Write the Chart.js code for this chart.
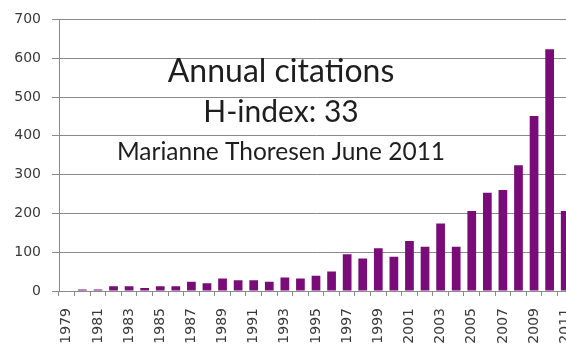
<!DOCTYPE html>
<html>
<head>
<meta charset="utf-8">
<script src="https://cdn.jsdelivr.net/npm/chart.js@4/dist/chart.umd.min.js"></script>
<style>
  html, body { margin: 0; padding: 0; background: #ffffff; overflow: hidden; }
  #wrap { width: 566px; height: 354px; overflow: hidden; position: relative; }
  canvas { display: block; }
</style>
</head>
<body>
<div id="wrap"><canvas id="c" width="580" height="354"></canvas></div>
<script>
const years = ["1979","1980","1981","1982","1983","1984","1985","1986","1987","1988",
  "1989","1990","1991","1992","1993","1994","1995","1996","1997","1998",
  "1999","2000","2001","2002","2003","2004","2005","2006","2007","2008",
  "2009","2010","2011"];
const citations = [0,4,4,12,12,8,12,12,24,20,
  32,28,28,24,35,32,39,50,95,84,
  110,88,129,114,174,114,206,253,260,324,
  451,623,206];
const yTicks = [0,100,200,300,400,500,600,700];
const titleLines = ["Annual citations", "H-index: 33", "Marianne Thoresen June 2011"];

const textPlugin = {
  id: 'overlayText',
  afterDraw(chart) {
    const ctx = chart.ctx;
    ctx.save();
    ctx.fillStyle = '#1e1e1e';
    ctx.textAlign = 'center';
    ctx.textBaseline = 'alphabetic';
    const specs = [
      { font: '32px Lato', y: 82 },
      { font: '30px Lato', y: 122 },
      { font: '24.5px Lato', y: 160 }
    ];
    titleLines.forEach((t, i) => {
      ctx.font = specs[i].font;
      ctx.fillText(t, 281, specs[i].y);
    });
    ctx.restore();
  }
};

new Chart(document.getElementById('c'), {
  type: 'bar',
  data: {
    labels: years,
    datasets: [{
      data: citations,
      backgroundColor: '#7a0c7a',
      borderWidth: 0,
      barPercentage: 0.56,
      categoryPercentage: 1.0
    }]
  },
  options: {
    responsive: false,
    animation: false,
    layout: { padding: { top: 19, right: 7, left: 0, bottom: 0 } },
    plugins: { legend: { display: false }, tooltip: { enabled: false }, title: { display: false } },
    scales: {
      x: {
        afterFit(scale) { scale.height = 63; scale.paddingRight = 0; scale.paddingLeft = 0; },
        grid: { display: true, drawOnChartArea: false, drawTicks: true, tickLength: 5, color: '#8a8a8a', offset: true },
        border: { display: true, color: '#8a8a8a', width: 1 },
        ticks: {
          autoSkip: false,
          minRotation: 90,
          maxRotation: 90,
          padding: 12,
          color: '#3a3a3a',
          font: { family: 'DejaVu Sans', size: 14 },
          callback(value, index) { return index % 2 === 0 ? years[index] : ''; }
        }
      },
      y: {
        min: 0,
        max: 700,
        afterFit(scale) { scale.width = 59; },
        afterBuildTicks(scale) { scale.ticks = yTicks.map(v => ({ value: v })); },
        grid: { color: '#8a8a8a', lineWidth: 1, drawTicks: true, tickLength: 7 },
        border: { display: true, color: '#8a8a8a', width: 1 },
        ticks: {
          padding: 11,
          color: '#3a3a3a',
          font: { family: 'DejaVu Sans', size: 14 }
        }
      }
    }
  },
  plugins: [textPlugin]
});
</script>
</body>
</html>
